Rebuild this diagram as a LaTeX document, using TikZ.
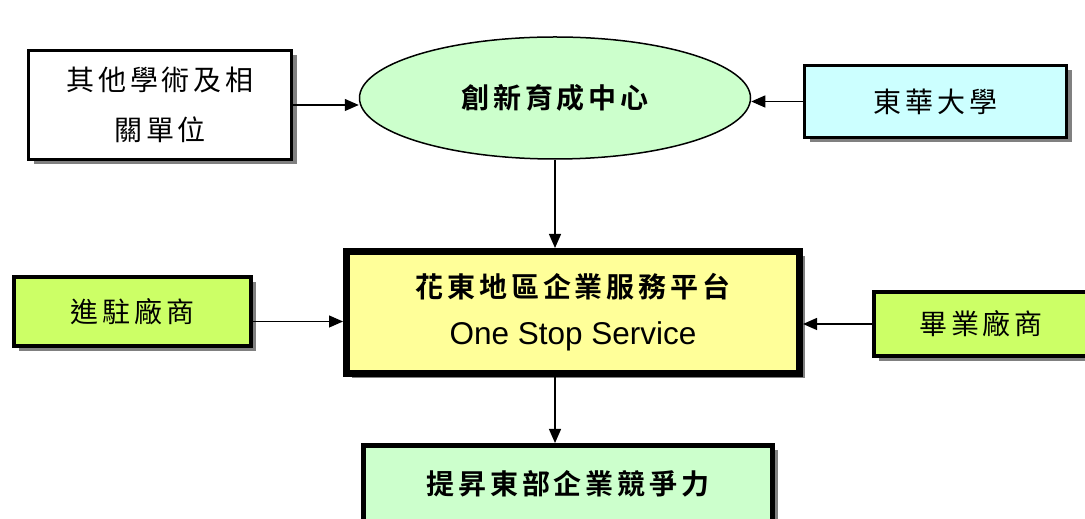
\documentclass[tikz,border=0pt]{standalone}
\usepackage{fontspec}
\setmainfont{Liberation Sans}
\newfontfamily\cjk[LetterSpace=14,BoldFont={Noto Sans CJK TC Bold}]{Noto Sans CJK TC}
\usepackage{tikz}
\usetikzlibrary{positioning,arrows.meta,shapes.geometric,shadows}

\definecolor{incubgreen}{HTML}{CCFFCC}
\definecolor{dhucyan}{HTML}{CCFFFF}
\definecolor{platyellow}{HTML}{FFFF99}
\definecolor{tenantlime}{HTML}{CCFF66}
\definecolor{goalgreen}{HTML}{CCFFCC}

\begin{document}
\begin{tikzpicture}[x=1pt,y=1pt,
  boxshadow/.style={drop shadow={shadow xshift=5pt,shadow yshift=-5pt,fill=black!50,opacity=1}},
  box/.style={draw, rectangle, inner sep=0pt, align=center, line width=3pt,
    font=\cjk\fontsize{28}{50}\selectfont, boxshadow},
  link/.style={-{Triangle[length=14pt,width=12pt]}, line width=1.2pt}]

  \useasboundingbox (0,0) rectangle (1085,519);

  \node[box, fill=white, minimum width=263pt, minimum height=109pt] (other) at (160,414) {其他學術及相\\關單位};
  \node[draw, ellipse, fill=incubgreen, line width=1.5pt, minimum width=391pt, minimum height=122pt,
    font=\cjk\bfseries\fontsize{28}{30}\selectfont] (incub) at (555,421) {創新育成中心};
  \node[box, fill=dhucyan, minimum width=262pt, minimum height=72pt] (dhu) at (935.5,417.5) {東華大學};

  \node[box, fill=platyellow, line width=7pt, minimum width=453pt, minimum height=122pt,
    font=\fontsize{31.5}{47}\selectfont] (plat) at (573,206.5)
    {{\cjk\bfseries\fontsize{28}{47}\selectfont 花東地區企業服務平台}\\One Stop Service};
  \node[box, fill=tenantlime, line width=4pt, minimum width=237pt, minimum height=69pt] (tenant) at (132.5,207.5) {進駐廠商};
  \node[box, fill=tenantlime, line width=4pt, minimum width=214pt, minimum height=64pt] (grad) at (981,195) {畢業廠商};

  \node[box, fill=goalgreen, line width=5pt, minimum width=409pt, minimum height=77pt,
    font=\cjk\bfseries\fontsize{28}{30}\selectfont] (goal) at (568,35) {提昇東部企業競爭力};

  % connectors
  \draw[link] (other.east) -- (other.east -| incub.west);
  \draw[link] (dhu.west) -- (dhu.west -| incub.east);
  \draw[link] (incub.south) -- (incub.south |- plat.north);
  \draw[link] ([yshift=-10pt]tenant.east) -- ([yshift=-10pt]tenant.east -| plat.west);
  \draw[link] (grad.west) -- (grad.west -| plat.east);
  \draw[link] (incub.south |- plat.south) -- (incub.south |- goal.north);

\end{tikzpicture}
\end{document}
